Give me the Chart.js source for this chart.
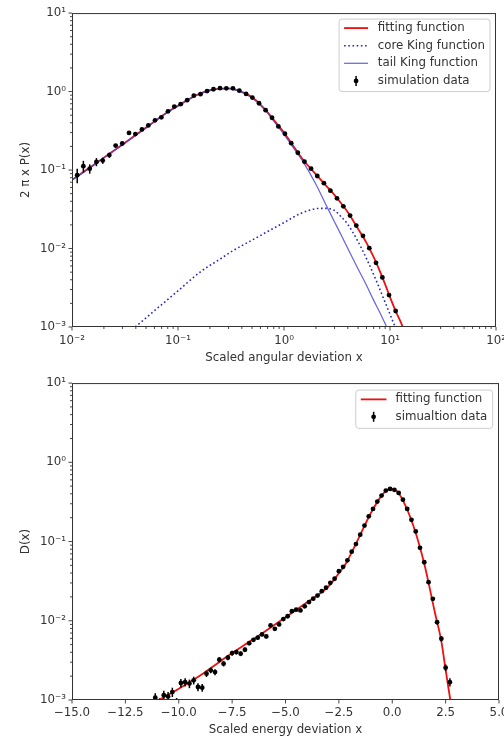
<!DOCTYPE html>
<html>
<head>
<meta charset="utf-8">
<script src="https://cdn.jsdelivr.net/npm/chart.js@4.4.1/dist/chart.umd.min.js"></script>
<style>
  html, body { margin: 0; padding: 0; background: #fff; overflow: hidden; width: 504px; height: 737px; }
  .panel { position: absolute; left: 0; width: 530px; }
  #panelTop { top: 0; height: 370px; }
  #panelBottom { top: 370px; height: 367px; }
  canvas { display: block; }
</style>
</head>
<body>
<div class="panel" id="panelTop"><canvas id="angular" width="530" height="370"></canvas></div>
<div class="panel" id="panelBottom"><canvas id="energy" width="530" height="367"></canvas></div>
<script>
// ---------- angular deviation: simulation points ----------
const angX = [0.0112, 0.0128, 0.0147, 0.0170, 0.0195, 0.0225, 0.0258, 0.0298, 0.0345, 0.0396,
              0.0457, 0.0525, 0.0607, 0.0697, 0.0805, 0.0923, 0.106, 0.122, 0.141, 0.163,
              0.188, 0.216, 0.249, 0.286, 0.330, 0.379, 0.439, 0.503, 0.581, 0.671,
              0.771, 0.885, 1.02, 1.17, 1.35, 1.56, 1.80, 2.06, 2.38, 2.74,
              3.16, 3.63, 4.20, 4.81, 5.56, 6.38, 7.38, 8.47, 9.79, 11.3];
const angY = [0.086, 0.112, 0.104, 0.127, 0.132, 0.155, 0.205, 0.218, 0.297, 0.287,
              0.329, 0.370, 0.430, 0.470, 0.560, 0.644, 0.690, 0.776, 0.885, 0.925,
              1.015, 1.07, 1.105, 1.10, 1.10, 1.025, 0.933, 0.838, 0.710, 0.580,
              0.464, 0.360, 0.290, 0.220, 0.166, 0.128, 0.104, 0.084, 0.068, 0.0546,
              0.0436, 0.0345, 0.0263, 0.0196, 0.0145, 0.0101, 0.00658, 0.00428, 0.00255, 0.0016];
const angErr = [0.018, 0.019, 0.014, 0.015, 0.012, 0.012, 0.010, 0.010, 0.010, 0.010,
                0.010, 0.010, 0.012, 0.012, 0.013, 0.014, 0.014, 0.015, 0.016, 0.016,
                0.017, 0.017, 0.017, 0.017, 0.017, 0.016, 0.015, 0.014, 0.012, 0.011,
                0.009, 0.008, 0.007, 0.005, 0.004, 0.003, 0.0025, 0.002, 0.0017, 0.0014,
                0.0011, 0.0009, 0.0007, 0.0005, 0.0004, 0.0003, 0.0002, 0.00014, 0.0001, 0.00008];

// ---------- angular deviation: fitted curves ----------
const fitX  = [0.01, 0.015, 0.02, 0.03, 0.05, 0.08, 0.1, 0.15, 0.2, 0.25, 0.3, 0.4, 0.5, 0.6, 0.7, 0.8,
               1.0, 1.2, 1.5, 2.0, 2.5, 3.0, 3.5, 4.0, 5.0, 6.0, 7.0, 8.0, 9.0, 10, 11.3, 12.3, 13.2];
const fitY  = [0.075, 0.109, 0.144, 0.212, 0.348, 0.550, 0.660, 0.905, 1.04, 1.09, 1.10, 0.99, 0.845, 0.683, 0.545, 0.435,
               0.300, 0.210, 0.137, 0.088, 0.063, 0.048, 0.037, 0.029, 0.0178, 0.0118, 0.0078, 0.0052, 0.0035, 0.0024, 0.0016, 0.00125, 0.001];
const tailX = [0.01, 0.015, 0.02, 0.03, 0.05, 0.08, 0.1, 0.15, 0.2, 0.25, 0.3, 0.4, 0.5, 0.6, 0.7, 0.8,
               1.0, 1.2, 1.5, 2.0, 2.5, 3.0, 3.5, 4.0, 5.0, 6.0, 7.0, 8.0, 9.3];
const tailY = [0.074, 0.108, 0.143, 0.210, 0.344, 0.545, 0.652, 0.898, 1.03, 1.08, 1.09, 0.98, 0.83, 0.67, 0.53, 0.42,
               0.285, 0.200, 0.130, 0.066, 0.0356, 0.0218, 0.0144, 0.0100, 0.0055, 0.0034, 0.0022, 0.00154, 0.001];
const coreX = [0.0395, 0.05, 0.0787, 0.1, 0.163, 0.25, 0.335, 0.5, 0.692, 1.0, 1.43, 2.05, 2.4,
               2.94, 3.5, 3.93, 4.88, 6.07, 7.54, 9.37, 11.2];
const coreY = [0.001, 0.00131, 0.0022, 0.00289, 0.00505, 0.00736, 0.0095, 0.0128, 0.0163, 0.0214, 0.0279, 0.0323, 0.0325,
               0.0310, 0.0250, 0.0210, 0.0130, 0.0072, 0.0037, 0.0018, 0.001];

// ---------- energy deviation: simulation points ----------
const enX = [-11.1, -10.9, -10.7, -10.5, -10.3, -10.1, -9.9, -9.7, -9.5, -9.3,
             -9.1, -8.9, -8.7, -8.5, -8.3, -8.1, -7.9, -7.7, -7.5, -7.3,
             -7.1, -6.9, -6.7, -6.5, -6.3, -6.1, -5.9, -5.7, -5.5, -5.3,
             -5.1, -4.9, -4.7, -4.5, -4.3, -4.1, -3.9, -3.7, -3.5, -3.3,
             -3.1, -2.9, -2.7, -2.5, -2.3, -2.1, -1.9, -1.7, -1.5, -1.3,
             -1.1, -0.9, -0.7, -0.5, -0.3, -0.1, 0.1, 0.3, 0.5, 0.7,
             0.9, 1.1, 1.3, 1.5, 1.7, 1.9, 2.1, 2.3, 2.5, 2.7];
const enY = [0.00107, 0.00093, 0.00115, 0.00111, 0.00126, 0.00094, 0.00164, 0.00168, 0.00161, 0.00177,
             0.00146, 0.00143, 0.00215, 0.00237, 0.00225, 0.00323, 0.00287, 0.00342, 0.00391, 0.00403,
             0.00384, 0.00431, 0.00522, 0.00575, 0.00611, 0.00673, 0.00634, 0.00873, 0.00792, 0.0090,
             0.0105, 0.0114, 0.0132, 0.0138, 0.0135, 0.0152, 0.0172, 0.0190, 0.0208, 0.0236,
             0.0261, 0.0301, 0.0339, 0.0423, 0.0480, 0.0580, 0.0745, 0.0930, 0.122, 0.159,
             0.208, 0.258, 0.319, 0.380, 0.440, 0.461, 0.449, 0.411, 0.338, 0.258,
             0.188, 0.134, 0.0832, 0.0548, 0.0307, 0.0189, 0.0096, 0.00593, 0.00256, 0.00168];
const enErr = [0.00015, 0.00012, 0.00016, 0.00015, 0.00017, 0.00012, 0.0002, 0.0002, 0.0002, 0.0002,
               0.00017, 0.00016, 0.0002, 0.0002, 0.0002, 0.00025, 0.00022, 0.00025, 0.00028, 0.00028,
               0.00026, 0.00028, 0.0003, 0.00032, 0.00034, 0.00036, 0.00035, 0.0004, 0.00038, 0.0004,
               0.00042, 0.00045, 0.0005, 0.0005, 0.0005, 0.00055, 0.0006, 0.00065, 0.0007, 0.00075,
               0.0008, 0.0009, 0.001, 0.0012, 0.0013, 0.0015, 0.0018, 0.0021, 0.0025, 0.003,
               0.0036, 0.0042, 0.0048, 0.0054, 0.006, 0.006, 0.006, 0.0057, 0.0052, 0.0045,
               0.0038, 0.0033, 0.0025, 0.002, 0.0014, 0.001, 0.0006, 0.00045, 0.00025, 0.0002];

// ---------- energy deviation: fitted curve ----------
const enFitX = [-10.93, -10, -9, -8, -7, -6, -5, -4, -3, -2.5, -2.2, -2.0, -1.7, -1.5, -1.0, -0.5,
                -0.2, 0, 0.2, 0.5, 1.0, 1.5, 2.0, 2.3, 2.5, 2.72];
const enFitY = [0.001, 0.00139, 0.00204, 0.00316, 0.00479, 0.00724, 0.0111, 0.0170, 0.0269, 0.0398, 0.0513, 0.0646, 0.0933, 0.1216, 0.229, 0.380,
                0.452, 0.460, 0.437, 0.331, 0.155, 0.0525, 0.0126, 0.0055, 0.0024, 0.001];

// ---------- axes ----------
const angXDecades = [-2, -1, 0, 1, 2];
const logYDecades = [-3, -2, -1, 0, 1];
const logMantissas = [1, 2, 3, 4, 5, 6, 7, 8, 9];
const enXTicks = [-15, -12.5, -10, -7.5, -5, -2.5, 0, 2.5, 5];

const FONT_SIZE = 11.8;
const INK = '#333333';
Chart.defaults.font.family = '"DejaVu Sans", sans-serif';
Chart.defaults.font.size = FONT_SIZE;
Chart.defaults.color = INK;

function logTicks(decades) {
  const out = [];
  for (let k = 0; k < decades.length - 1; k++) {
    for (const m of logMantissas) out.push(Number((m * Math.pow(10, decades[k])).toPrecision(6)));
  }
  out.push(Math.pow(10, decades[decades.length - 1]));
  return out;
}
const SUP = { '-': '\u207B', '0': '\u2070', '1': '\u00B9', '2': '\u00B2', '3': '\u00B3', '4': '\u2074',
              '5': '\u2075', '6': '\u2076', '7': '\u2077', '8': '\u2078', '9': '\u2079' };
function isDecade(v) { const l = Math.log10(v); return Math.abs(l - Math.round(l)) < 1e-6; }
function powLabel(v) {
  if (!isDecade(v)) return '';
  return '10' + String(Math.round(Math.log10(v))).split('').map(c => SUP[c]).join('');
}
function signedLabel(v) { return (v < 0 ? '\u2212' : '') + Math.abs(v).toFixed(1); }
const pairs = (xs, ys) => xs.map((x, i) => ({ x, y: ys[i] }));

// ---------- plugins ----------
// outward tick marks (long on decades, short on minor ticks) plus the full axes frame
const frameTicks = {
  id: 'frameTicks',
  afterDatasetsDraw(chart) {
    const { ctx, chartArea: a } = chart;
    ctx.save();
    ctx.strokeStyle = INK;
    ctx.lineWidth = 0.9;
    for (const id of ['x', 'y']) {
      const s = chart.scales[id];
      for (const t of s.ticks) {
        const major = s.type !== 'logarithmic' || isDecade(t.value);
        const len = major ? 3.5 : 2;
        const p = s.getPixelForValue(t.value);
        ctx.beginPath();
        if (id === 'x') { ctx.moveTo(p, a.bottom); ctx.lineTo(p, a.bottom + len); }
        else { ctx.moveTo(a.left, p); ctx.lineTo(a.left - len, p); }
        ctx.stroke();
      }
    }
    ctx.lineWidth = 1;
    ctx.strokeRect(a.left + 0.5, a.top + 0.5, a.right - a.left - 1, a.bottom - a.top - 1);
    ctx.restore();
  }
};

// vertical error bars under the markers of datasets carrying an `errors` list
const errorBars = {
  id: 'errorBars',
  beforeDatasetDraw(chart, args) {
    const ds = chart.data.datasets[args.index];
    if (!ds.errors) return;
    const { ctx, chartArea: a } = chart;
    const xs = chart.scales.x, ys = chart.scales.y;
    ctx.save();
    ctx.beginPath();
    ctx.rect(a.left, a.top, a.right - a.left, a.bottom - a.top);
    ctx.clip();
    ctx.strokeStyle = ds.backgroundColor;
    ctx.lineWidth = 1.5;
    ds.data.forEach((p, i) => {
      const e = ds.errors[i];
      const px = xs.getPixelForValue(p.x);
      const lo = Math.max(p.y - e, 1e-6);
      ctx.beginPath();
      ctx.moveTo(px, ys.getPixelForValue(lo));
      ctx.lineTo(px, ys.getPixelForValue(p.y + e));
      ctx.stroke();
    });
    ctx.restore();
  }
};

function roundedRect(ctx, x, y, w, h, r) {
  ctx.beginPath();
  ctx.moveTo(x + r, y);
  ctx.lineTo(x + w - r, y); ctx.arcTo(x + w, y, x + w, y + r, r);
  ctx.lineTo(x + w, y + h - r); ctx.arcTo(x + w, y + h, x + w - r, y + h, r);
  ctx.lineTo(x + r, y + h); ctx.arcTo(x, y + h, x, y + h - r, r);
  ctx.lineTo(x, y + r); ctx.arcTo(x, y, x + r, y, r);
  ctx.closePath();
}

// framed legend in the upper right corner of the plot area
const boxLegend = {
  id: 'boxLegend',
  afterDraw(chart, args, o) {
    if (!o || !o.order) return;
    const { ctx, chartArea: a } = chart;
    const sets = o.order.map(i => chart.data.datasets[i]);
    ctx.save();
    ctx.font = FONT_SIZE + 'px "DejaVu Sans"';
    const tw = Math.max(...sets.map(d => ctx.measureText(d.label).width));
    const w = o.padL + o.handle + o.gap + tw + o.padR;
    const h = o.padT + (sets.length - 1) * o.rowH + o.padB;
    const x0 = a.right - o.marginR - w, y0 = a.top + o.marginT;
    roundedRect(ctx, x0, y0, w, h, 3);
    ctx.fillStyle = 'rgba(255,255,255,0.8)';
    ctx.fill();
    ctx.strokeStyle = '#cccccc';
    ctx.lineWidth = 1;
    ctx.stroke();
    sets.forEach((d, k) => {
      const cy = y0 + o.padT + k * o.rowH;
      const hx = x0 + o.padL;
      if (d.showLine) {
        ctx.save();
        ctx.setLineDash(d.borderDash || []);
        ctx.strokeStyle = d.borderColor;
        ctx.lineWidth = d.borderWidth;
        ctx.beginPath();
        ctx.moveTo(hx, cy); ctx.lineTo(hx + o.handle, cy);
        ctx.stroke();
        ctx.restore();
      } else {
        const cx = hx + o.handle / 2;
        ctx.strokeStyle = d.backgroundColor;
        ctx.lineWidth = 1.5;
        ctx.beginPath(); ctx.moveTo(cx, cy - 5); ctx.lineTo(cx, cy + 5); ctx.stroke();
        ctx.fillStyle = d.backgroundColor;
        ctx.beginPath(); ctx.arc(cx, cy, d.pointRadius, 0, Math.PI * 2); ctx.fill();
      }
      ctx.fillStyle = INK;
      ctx.textAlign = 'left';
      ctx.textBaseline = 'middle';
      ctx.fillText(d.label, hx + o.handle + o.gap, cy);
    });
    ctx.restore();
  }
};

function logAxis(decades, title, titlePad) {
  const vals = logTicks(decades);
  return {
    type: 'logarithmic',
    min: Math.pow(10, decades[0]),
    max: Math.pow(10, decades[decades.length - 1]),
    afterBuildTicks: s => { s.ticks = vals.map(v => ({ value: v })); },
    grid: { display: false, drawTicks: false },
    border: { display: false },
    ticks: { autoSkip: false, maxRotation: 0, callback: v => powLabel(v) },
    title: { display: true, text: title, color: INK, font: { size: FONT_SIZE }, padding: titlePad }
  };
}

const dataStyle = { showLine: false, pointRadius: 2.4, pointHoverRadius: 2.4, borderWidth: 0,
                    backgroundColor: '#000000', borderColor: '#000000', clip: 0, order: 0 };
const curveStyle = { showLine: true, pointRadius: 0, pointHoverRadius: 0, fill: false,
                     cubicInterpolationMode: 'monotone' };

// ---------- angular deviation chart ----------
const angXAxis = logAxis(angXDecades, 'Scaled angular deviation x', { top: 0, bottom: 5 });
angXAxis.afterFit = s => { s.height = 43; };
angXAxis.ticks.padding = 7;
const angYAxis = logAxis(logYDecades, '2 \u03C0 x P(x)', { top: 19, bottom: 0 });
angYAxis.afterFit = s => { s.width = 72; };
angYAxis.ticks.padding = 6;

new Chart(document.getElementById('angular'), {
  type: 'scatter',
  data: {
    datasets: [
      Object.assign({ label: 'simulation data', data: pairs(angX, angY), errors: angErr }, dataStyle),
      Object.assign({ label: 'fitting function', data: pairs(fitX, fitY), borderColor: '#ee1111',
                      borderWidth: 1.8, order: 2 }, curveStyle),
      Object.assign({ label: 'core King function', data: pairs(coreX, coreY), borderColor: '#2626c8',
                      borderWidth: 1.6, borderDash: [1.6, 2.6], order: 3 }, curveStyle),
      Object.assign({ label: 'tail King function', data: pairs(tailX, tailY), borderColor: 'rgba(70,70,215,0.85)',
                      borderWidth: 1.2, order: 1 }, curveStyle)
    ]
  },
  options: {
    responsive: false,
    animation: false,
    events: [],
    layout: { padding: { left: 0, right: 34, top: 12, bottom: 0 } },
    scales: { x: angXAxis, y: angYAxis },
    plugins: {
      legend: { display: false },
      tooltip: { enabled: false },
      boxLegend: { order: [1, 2, 3, 0], marginT: 6, marginR: 6, padT: 9, padB: 10.7, rowH: 17.6,
                   padL: 5, handle: 24, gap: 9.7, padR: 5 }
    }
  },
  plugins: [errorBars, frameTicks, boxLegend]
});

// ---------- energy deviation chart ----------
const enXAxis = {
  type: 'linear',
  min: enXTicks[0],
  max: enXTicks[enXTicks.length - 1],
  afterBuildTicks: s => { s.ticks = enXTicks.map(v => ({ value: v })); },
  afterFit: s => { s.height = 37; },
  grid: { display: false, drawTicks: false },
  border: { display: false },
  ticks: { autoSkip: false, maxRotation: 0, padding: 6, callback: v => signedLabel(v) },
  title: { display: true, text: 'Scaled energy deviation x', color: INK, font: { size: FONT_SIZE },
           padding: { top: 0, bottom: 0 } }
};
const enYAxis = logAxis(logYDecades, 'D(x)', { top: 19, bottom: 0 });
enYAxis.afterFit = s => { s.width = 72; };
enYAxis.ticks.padding = 6;

new Chart(document.getElementById('energy'), {
  type: 'scatter',
  data: {
    datasets: [
      Object.assign({ label: 'simualtion data', data: pairs(enX, enY), errors: enErr }, dataStyle),
      Object.assign({ label: 'fitting function', data: pairs(enFitX, enFitY), borderColor: '#ee1111',
                      borderWidth: 1.8, order: 1 }, curveStyle)
    ]
  },
  options: {
    responsive: false,
    animation: false,
    events: [],
    layout: { padding: { left: 0, right: 31, top: 12, bottom: 0 } },
    scales: { x: enXAxis, y: enYAxis },
    plugins: {
      legend: { display: false },
      tooltip: { enabled: false },
      boxLegend: { order: [1, 0], marginT: 7, marginR: 6.3, padT: 9.3, padB: 11.6, rowH: 17.4,
                   padL: 5, handle: 25.7, gap: 9, padR: 5.4 }
    }
  },
  plugins: [errorBars, frameTicks, boxLegend]
});
</script>
</body>
</html>
